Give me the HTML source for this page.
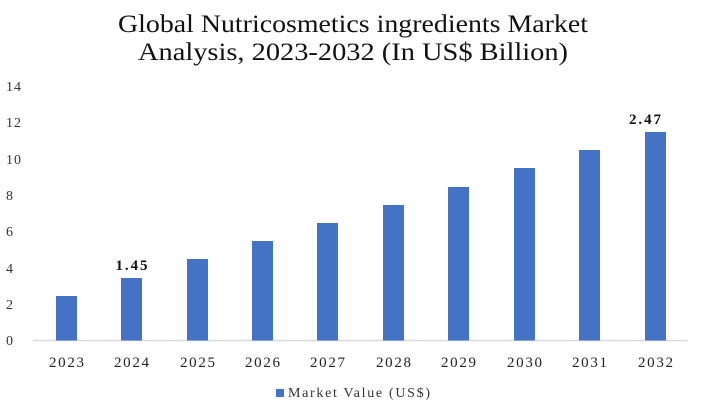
<!DOCTYPE html>
<html><head><style>body{margin:0;background:#fff}svg{display:block}text{font-family:"Liberation Serif",serif}</style></head>
<body>
<svg width="705" height="414" viewBox="0 0 705 414" xmlns="http://www.w3.org/2000/svg">
<text x="353" y="32" font-size="25" text-anchor="middle" textLength="470" lengthAdjust="spacingAndGlyphs" fill="#111">Global Nutricosmetics ingredients Market</text>
<text x="353" y="60" font-size="25" text-anchor="middle" textLength="430" lengthAdjust="spacingAndGlyphs" fill="#111">Analysis, 2023-2032 (In US$ Billion)</text>
<g font-size="14" fill="#333">
<text x="6" y="345">0</text><text x="6" y="309">2</text><text x="6" y="273">4</text><text x="6" y="236">6</text><text x="6" y="200">8</text><text x="6" y="164" textLength="15">10</text><text x="6" y="127" textLength="15">12</text><text x="6" y="91" textLength="15">14</text>
</g>
<line x1="33" y1="340.5" x2="688" y2="340.5" stroke="#d9d9d9" stroke-width="1.5"/>
<g fill="#4472c4">
<rect x="56" y="296" width="21" height="44.5"/>
<rect x="121" y="278" width="21" height="62.5"/>
<rect x="187" y="259" width="21" height="81.5"/>
<rect x="252" y="241" width="21" height="99.5"/>
<rect x="317" y="223" width="21" height="117.5"/>
<rect x="383" y="205" width="21" height="135.5"/>
<rect x="448" y="187" width="21" height="153.5"/>
<rect x="514" y="168" width="21" height="172.5"/>
<rect x="579" y="150" width="21" height="190.5"/>
<rect x="645" y="132" width="21" height="208.5"/>
</g>
<g font-size="15" fill="#222" text-anchor="middle">
<text x="66.5" y="367" textLength="35">2023</text><text x="131.5" y="367" textLength="35">2024</text><text x="197.5" y="367" textLength="35">2025</text><text x="262.5" y="367" textLength="35">2026</text><text x="327.5" y="367" textLength="35">2027</text><text x="393.5" y="367" textLength="35">2028</text><text x="458.5" y="367" textLength="35">2029</text><text x="524.5" y="367" textLength="35">2030</text><text x="589.5" y="367" textLength="35">2031</text><text x="655.5" y="367" textLength="35">2032</text>
</g>
<g font-size="15" font-weight="bold" fill="#111" text-anchor="middle">
<text x="131.5" y="270" textLength="32">1.45</text><text x="645" y="124" textLength="32">2.47</text>
</g>
<rect x="276" y="389" width="8" height="8" fill="#4472c4"/>
<text x="288" y="397" font-size="14" fill="#333" textLength="142">Market Value (US$)</text>
</svg>
</body></html>
